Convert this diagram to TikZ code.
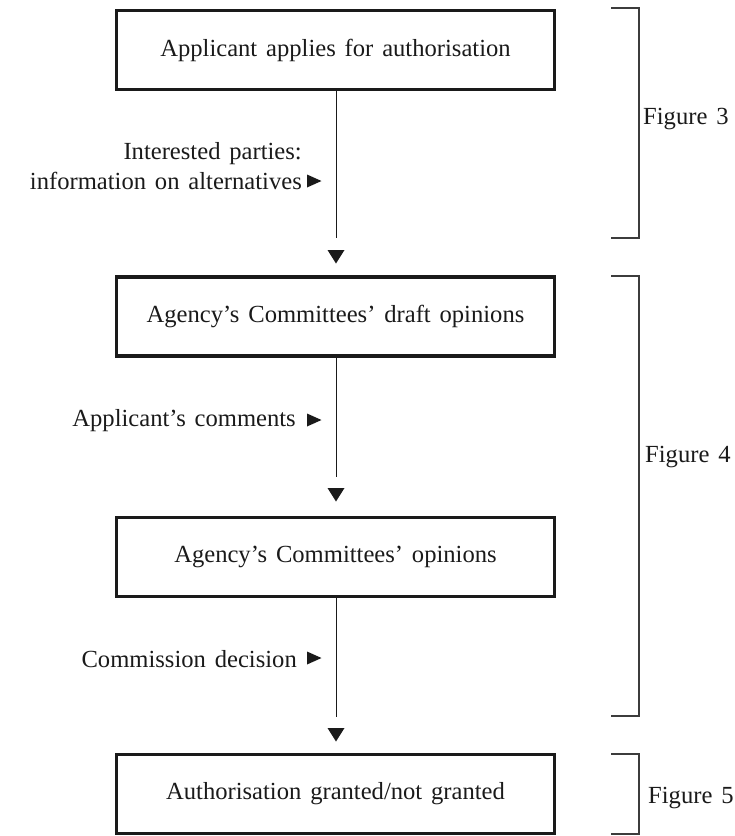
\documentclass[tikz,border=0pt]{standalone}
\usepackage{fontspec}
\setmainfont{Liberation Serif}
\definecolor{ink}{HTML}{1A1A1A}
% text size and the wide word spacing used throughout
\newcommand\chartfont{\fontsize{24.6}{30}\selectfont\spaceskip=0.36em plus 0.1em\relax}
\begin{document}
\begin{tikzpicture}[x=1pt,y=-1pt,
  stage/.style={draw=ink, line width=3.3pt, minimum width=438pt, minimum height=79pt,
    inner sep=0pt, text=ink, font=\chartfont},
  flow/.style={draw=ink, line width=0.9pt},
  head/.style={fill=ink},
  note/.style={text=ink, align=right, anchor=east, inner sep=0pt, font=\chartfont},
  figlabel/.style={text=ink, anchor=west, inner sep=0pt, font=\chartfont},
  bracket/.style={draw=ink!85, line width=1.3pt},
]
\useasboundingbox (0,0) rectangle (735,836);

% stages of the procedure
\node[stage] (b1) at (335.5,50)    {Applicant applies for authorisation};
\node[stage] (b2) at (335.5,316.5) {Agency's Committees' draft opinions};
\node[stage] (b3) at (335.5,557)   {Agency's Committees' opinions};
\node[stage] (b4) at (335.5,794)   {Authorisation granted/not granted};

% tops of the detached arrowheads
\coordinate (h1) at (336,250);
\coordinate (h2) at (336,488);
\coordinate (h3) at (336,728);

\draw[flow, shorten >=12pt] (b1.south -| h1) -- (h1);
\draw[flow, shorten >=11pt] (b2.south -| h2) -- (h2);
\draw[flow, shorten >=11pt] (b3.south -| h3) -- (h3);
\foreach \h in {h1,h2,h3}
  \fill[head] (\h) ++(-8.5,0) -- ++(17,0) -- ++(-8.5,13.5) -- cycle;

% inputs along the flow
\node[note] (n1) at (302,166) {Interested parties:\\information on alternatives};
\node[note] (n2) at (296,421) {Applicant's comments};
\node[note] (n3) at (297,659) {Commission decision};
\coordinate (m1) at (307,181);
\coordinate (m2) at (307,420);
\coordinate (m3) at (307,658);
\foreach \m in {m1,m2,m3}
  \fill[head] (\m) ++(0,-6.5) -- ++(14.5,6.5) -- ++(-14.5,6.5) -- cycle;

% grouping brackets
\draw[bracket] (611,8) -- (639,8) -- (639,238) -- (611,238);
\draw[bracket] (611,276) -- (639,276) -- (639,716) -- (611,716);
\draw[bracket] (611,754) -- (639,754) -- (639,834) -- (611,834);
\node[figlabel] (f3) at (643,119) {Figure 3};
\node[figlabel] (f4) at (645,457) {Figure 4};
\node[figlabel] (f5) at (648,798) {Figure 5};
\end{tikzpicture}
\end{document}
